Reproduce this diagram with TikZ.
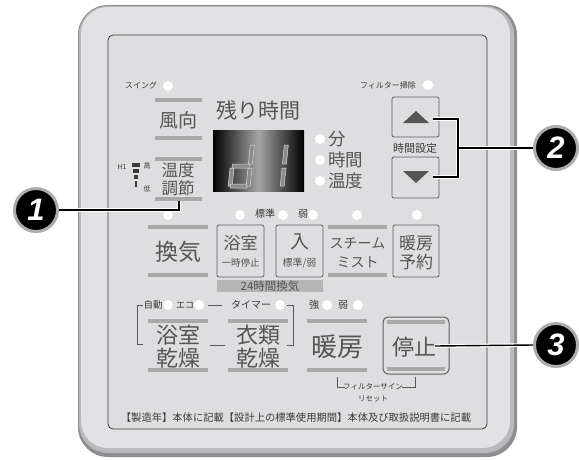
\documentclass[tikz,border=0pt]{standalone}
\usepackage{fontspec}
\setmainfont{Noto Sans CJK JP}
\newfontfamily\numfont{Liberation Sans}
\usepackage{tikz}
\usetikzlibrary{positioning, calc}
\newcommand\fsz[1]{\fontsize{#1}{#1}\selectfont}
\definecolor{rimdark}{HTML}{8E8E90}
\definecolor{rimmid}{HTML}{B9B9BB}
\definecolor{panel}{HTML}{E2E2E4}
\definecolor{face}{HTML}{DEDEE0}
\definecolor{bartone}{HTML}{A8A8A8}
\definecolor{ink}{HTML}{555555}
\definecolor{darkink}{HTML}{3A3A3A}
\definecolor{keyline}{HTML}{5E5E5E}

\begin{document}
\begin{tikzpicture}[x=1pt, y=-1pt,
    lbl/.style={inner sep=0pt, text=ink},
    tiny/.style={inner sep=0pt, text=darkink},
    bar/.style={draw=bartone, line width=3.2pt},
    lamp/.style={circle, fill=white, minimum size=10pt, inner sep=0pt},
    keybox/.style={draw=keyline, line width=0.8pt, rounded corners=2pt},
    bracket/.style={draw=gray!70!black, line width=0.6pt},
    halo/.style={draw=white, line width=3.6pt},
    core/.style={draw=black, line width=1.4pt},
    badge/.style={circle, fill=black, draw=gray!65, line width=3pt, minimum size=43pt,
      inner sep=0pt, text=white, font=\numfont\bfseries\itshape\fsz{31}},
    seg/.style={fill=black!45, draw=white!85!black, line width=0.5pt}]
  \useasboundingbox (0,0) rectangle (579,459);

  % body
  \fill[rimdark, rounded corners=30pt] (78,5) rectangle (517,457);
  \fill[rimmid, rounded corners=29pt] (79,6) rectangle (514,453);
  \fill[panel, rounded corners=27pt] (81,7) rectangle (510,448);
  \draw[fill=face, draw=darkink, line width=0.8pt, rounded corners=5pt] (108,35) rectangle (487,429);

  % top rows
  \node[tiny, font=\fsz{8}] (swing) at (141,85) {スイング};
  \node[lamp] (swinglamp) at (168,86) {};
  \draw[bar] (155,100) -- (202,100);
  \node[lbl, font=\fsz{19}] (wind) at (178,120) {風向};
  \draw[bar] (155,138) -- (202,138);

  \node[lbl, font=\fsz{21}] (remain) at (258,110) {残り時間};
  \node[inner sep=0pt, minimum width=91pt, minimum height=61pt, left color=black,
    right color=black, middle color=gray!70] (lcd) at (258.5,160.5) {};
  \begin{scope}[shift={(228,188)}, cm={1,0,-0.1,-1,(0,0)}]
    \foreach \a/\b/\c/\d in {0/2/4/20, 2/0/19/4, 18/2/22/20, 2/20/19/24, 18/24/22/43}
      \filldraw[seg] (\a,\b) rectangle (\c,\d);
  \end{scope}
  \begin{scope}[shift={(262,188)}, cm={1,0,-0.1,-1,(0,0)}]
    \foreach \a/\b/\c/\d in {18/2/22/20, 18/24/22/43}
      \filldraw[seg] (\a,\b) rectangle (\c,\d);
  \end{scope}
  \node[lamp] (minlamp) at (320,139) {};
  \node[lamp] (hourlamp) at (320,160) {};
  \node[lamp] (templamp) at (320,181) {};
  \node[lbl, anchor=west, font=\fsz{17.5}] (minute) at (328,139) {分};
  \node[lbl, anchor=west, font=\fsz{17.5}] (hours) at (328,160) {時間};
  \node[lbl, anchor=west, font=\fsz{17.5}] (temp) at (328,181) {温度};

  \node[tiny, font=\fsz{7}] (hone) at (122,167) {H1};
  \fill[darkink] (132,163) rectangle (140,167);
  \fill[darkink] (133,169) rectangle (139,173);
  \fill[darkink] (134,175) rectangle (138,179);
  \fill[darkink] (135,181) rectangle (137,187);
  \node[tiny, font=\fsz{7}] (high) at (147,166) {高};
  \node[tiny, font=\fsz{7}] (low) at (147,189) {低};
  \draw[bar] (155,159) -- (202,159);
  \node[lbl, font=\fsz{16.5}] (tempadj) at (178,170) {温度};
  \node[lbl, font=\fsz{16.5}] (adjust) at (178,188) {調節};
  \draw[bar] (155,199) -- (202,199);

  \node[tiny, font=\fsz{8}] (filter) at (388,85) {フィルター掃除};
  \node[lamp] (filterlamp) at (428,85) {};
  \node[keybox, minimum width=47pt, minimum height=40pt] (upkey) at (415.5,117) {};
  \fill[ink] (403,123) -- (429,123) -- (416,111) -- cycle;
  \node[tiny, font=\fsz{11}] (timeset) at (415,148) {時間設定};
  \node[keybox, minimum width=47pt, minimum height=41pt] (downkey) at (415.5,177.5) {};
  \fill[ink] (403,171) -- (429,171) -- (416,183) -- cycle;

  % ventilation row
  \node[lamp] (ventlamp) at (168,215) {};
  \node[lamp] (bathlamp) at (240,215) {};
  \node[tiny, font=\fsz{10}] (std) at (265,214) {標準};
  \node[lamp] (stdlamp) at (283,215) {};
  \node[tiny, font=\fsz{10}] (weak) at (303,214) {弱};
  \node[lamp] (weaklamp) at (313,215) {};
  \node[lamp] (steamlamp) at (357,215) {};
  \node[lamp] (timerlamp) at (417,215) {};

  \draw[bar] (148,227) -- (208,227);
  \node[lbl, font=\fsz{23}] (vent) at (178,252) {換気};
  \draw[bar] (148,275) -- (208,275);

  \node[keybox, minimum width=47pt, minimum height=52pt] (bathkey) at (240.5,251) {};
  \node[lbl, font=\fsz{17}] (bath) at (240.5,243) {浴室};
  \node[lbl, font=\fsz{9.5}] (pause) at (240.5,263) {一時停止};
  \node[keybox, minimum width=47pt, minimum height=52pt] (onkey) at (299.5,251) {};
  \node[lbl, font=\fsz{19}] (on) at (299.5,242) {入};
  \node[lbl, font=\fsz{10}] (stdweak) at (299.5,263) {標準/弱};
  \node[fill=bartone!85, inner sep=0pt, minimum width=106pt, minimum height=12pt] (allday) at (270,286) {};
  \node[lbl, font=\fsz{11.5}] (alldaytext) at (270,286) {24時間換気};

  \draw[bar] (328,227) -- (387,227);
  \node[lbl, font=\fsz{14}] (steam) at (357.5,243) {スチーム};
  \node[lbl, font=\fsz{14}] (mist) at (357.5,262) {ミスト};
  \draw[bar] (328,275) -- (387,275);

  \node[keybox, minimum width=46pt, minimum height=52pt] (prekey) at (416,251) {};
  \node[lbl, font=\fsz{17}] (preheat) at (416,243) {暖房};
  \node[lbl, font=\fsz{17}] (reserve) at (416,262) {予約};

  % drying row
  \node[tiny, font=\fsz{9.5}] (auto) at (153,305) {自動};
  \node[lamp] (autolamp) at (168,305) {};
  \node[tiny, font=\fsz{9}] (eco) at (185,305) {エコ};
  \node[lamp] (ecolamp) at (199,305) {};
  \node[tiny, font=\fsz{10}] (timer) at (251,305) {タイマー};
  \node[lamp] (timer2lamp) at (280,305) {};
  \draw[bracket] (143,305) -- (137,305) -- (137,344) -- (143,344);
  \draw[bracket] (208,305) -- (222,305);
  \draw[bracket] (210,345) -- (225,345);
  \draw[bracket] (287,305) -- (293,305) -- (293,345) -- (287,345);

  \draw[bar] (148,321) -- (208,321);
  \node[lbl, font=\fsz{22}] (bathdry) at (178,335) {浴室};
  \node[lbl, font=\fsz{22}] (bathdry2) at (178,358) {乾燥};
  \draw[bar] (148,370) -- (208,370);
  \draw[bar] (228,321) -- (288,321);
  \node[lbl, font=\fsz{22}] (clothes) at (258,335) {衣類};
  \node[lbl, font=\fsz{22}] (clothes2) at (258,358) {乾燥};
  \draw[bar] (228,370) -- (288,370);

  \node[tiny, font=\fsz{10}] (strong) at (314,305) {強};
  \node[lamp] (stronglamp) at (327,305) {};
  \node[tiny, font=\fsz{10}] (weak2) at (343,305) {弱};
  \node[lamp] (weak2lamp) at (358,305) {};
  \draw[bar] (307,321) -- (367,321);
  \node[lbl, font=\fsz{26}] (heat) at (337,347) {暖房};
  \draw[bar] (307,370) -- (367,370);

  \node[draw=keyline, line width=1pt, rounded corners=5pt, minimum width=66pt,
    minimum height=57pt] (stopkey) at (416,345.5) {};
  \draw[bar] (387,322) -- (445,322);
  \draw[bar] (387,369) -- (445,369);
  \node[lbl, font=\fsz{22}] (stop) at (414,347) {停止};

  \node[tiny, font=\fsz{7.5}] (fsign) at (373,387) {フィルターサイン};
  \node[tiny, font=\fsz{7.5}] (reset) at (373,399) {リセット};
  \draw[bracket] (337,377) -- (337,387) -- (345,387);
  \draw[bracket] (402,387) -- (415,387) -- (415,377);

  \node[tiny, font=\fsz{10.3}] (footer) at (296,418)
    {【製造年】本体に記載【設計上の標準使用期間】本体及び取扱説明書に記載};

  % callouts
  \node[badge] (one) at (36,210) {1};
  \node[badge] (two) at (556,148) {2};
  \node[badge] (three) at (556,345) {3};
  \coordinate (adjfoot) at (179,201);
  \coordinate (upend) at (433,119);
  \coordinate (downend) at (433,177);
  \coordinate (joint) at (458,148);
  \coordinate (stopend) at (435,346);
  \foreach \s in {halo, core} {
    \draw[\s] (one.east) -| (adjfoot);
    \draw[\s] (upend) -| (joint) |- (downend);
    \draw[\s] (joint) -- (two.west);
    \draw[\s] (stopend) -- (three.west);
  }
\end{tikzpicture}
\end{document}
